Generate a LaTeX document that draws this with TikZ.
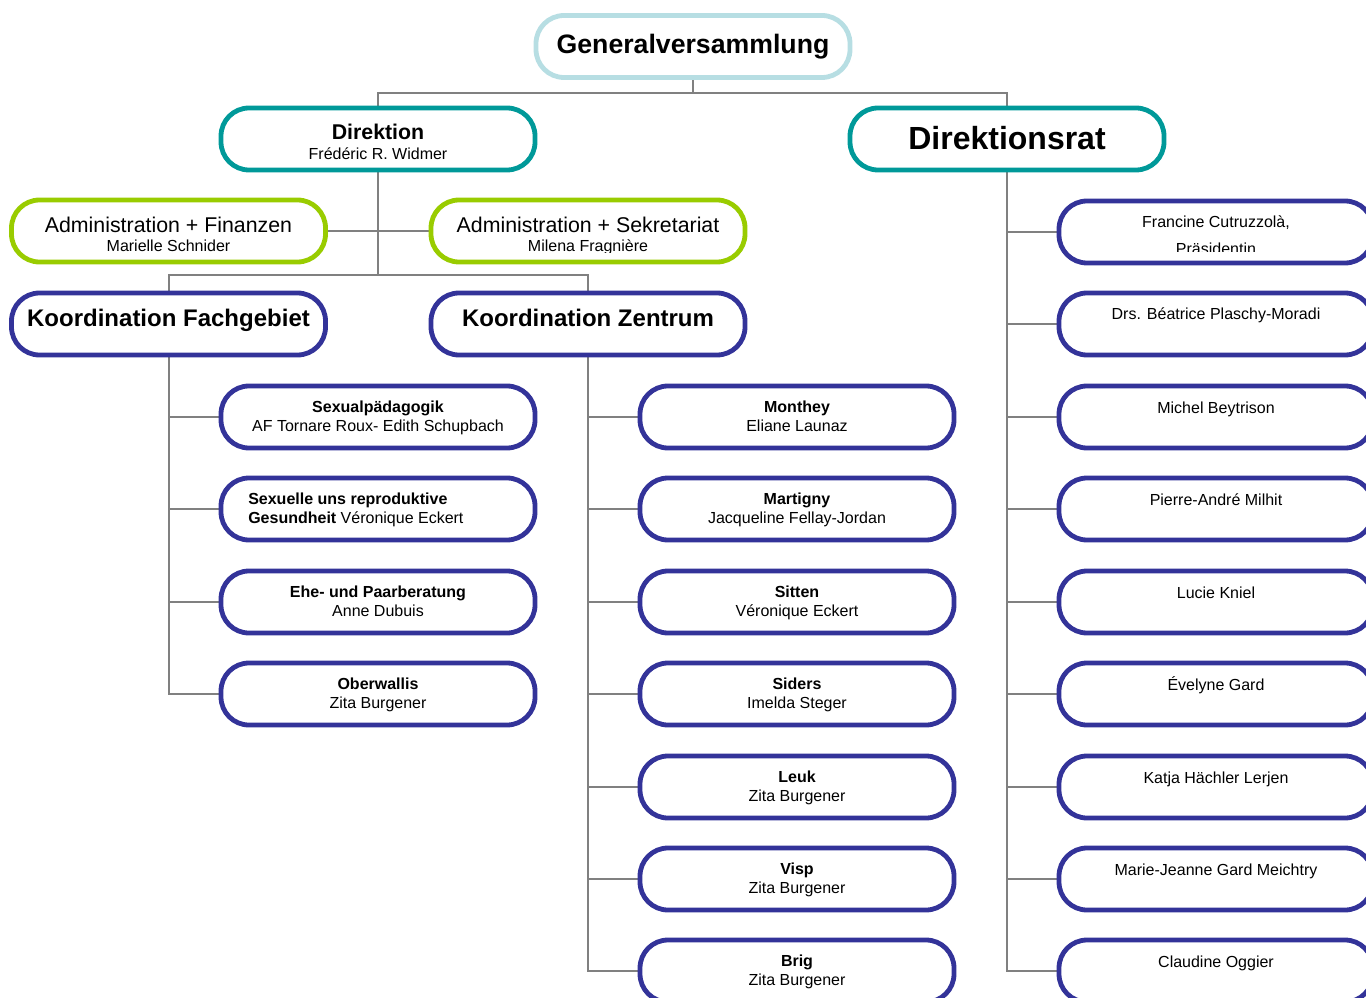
\documentclass[tikz,border=0pt]{standalone}
\usepackage{fontspec}
\setmainfont{Liberation Sans}
\usetikzlibrary{backgrounds}
\definecolor{gvblue}{RGB}{183,222,227}
\definecolor{tealc}{RGB}{0,153,153}
\definecolor{greenc}{RGB}{153,204,0}
\definecolor{navy}{RGB}{51,51,153}
\definecolor{linegray}{RGB}{128,128,128}
\tikzset{
  box/.style={draw=#1, line width=3.6pt, rounded corners=21pt, fill=white,
    minimum width=235.5pt, minimum height=46.5pt, inner sep=0pt},
  conn/.style={draw=linegray, line width=1.5pt},
  txt/.style={inner sep=0pt, anchor=base, font=\fontsize{12pt}{14pt}\selectfont},
  txtb/.style={txt, font=\bfseries\fontsize{12pt}{14pt}\selectfont},
}
\newcommand\kid[5]{%
  \node[box=navy] (#1) at (#2,#3) {};
  \node[txtb] (#1a) at (#2,#3-5) {#4};
  \node[txt] (#1b) at (#2,#3+14) {#5};}
\newcommand\ratkid[3]{%
  \node[box=navy] (#1) at (1216,#2) {};
  \node[txt] (#1a) at (1216,#2-4) {#3};}
\begin{document}
\begin{tikzpicture}[x=0.75pt,y=-0.75pt]
\useasboundingbox (0,0) rectangle (1366,998);
\clip (0,0) rectangle (1366,998);

% top level
\node[box=gvblue] (gv) at (693,46.5) {};
\node[txt, font=\bfseries\fontsize{20pt}{24pt}\selectfont] (gvt) at (693,54) {Generalversammlung};

\node[box=tealc] (dir) at (378,139) {};
\node[txt, font=\bfseries\fontsize{16pt}{19pt}\selectfont] (dirt) at (378,139.5) {Direktion};
\node[txt] (dirn) at (378,159.5) {Frédéric R. Widmer};

\node[box=tealc] (rat) at (1007,139) {};
\node[txt, font=\bfseries\fontsize{24pt}{28pt}\selectfont] (ratt) at (1007,150) {Direktionsrat};

% administration
\node[box=greenc] (af) at (168.5,231) {};
\node[txt, font=\fontsize{16pt}{19pt}\selectfont] (aft) at (168.5,233) {Administration + Finanzen};
\node[txt] (afn) at (168.5,251.5) {Marielle Schnider};

\node[box=greenc] (as) at (588,231) {};
\node[txt, font=\fontsize{16pt}{19pt}\selectfont] (ast) at (588,233) {Administration + Sekretariat};
\begin{scope}
  \clip (430,200) rectangle (746,253);
  \node[txt] (asn) at (588,251.5) {Milena Fragnière};
\end{scope}

% coordination
\node[box=navy] (kf) at (168.5,324) {};
\node[txt, font=\bfseries\fontsize{18pt}{21pt}\selectfont] (kft) at (168.5,326) {Koordination Fachgebiet};
\node[box=navy] (kz) at (588,324) {};
\node[txt, font=\bfseries\fontsize{18pt}{21pt}\selectfont] (kzt) at (588,326) {Koordination Zentrum};

% Fachgebiet children
\kid{f1}{378}{417}{Sexualpädagogik}{AF Tornare Roux- Edith Schupbach}
\node[box=navy] (f2) at (378,509) {};
\node[txtb, anchor=base west] (f2a) at (248,504) {Sexuelle uns reproduktive};
\node[txt, anchor=base west] (f2b) at (248,523.5) {\textbf{Gesundheit} Véronique Eckert};
\kid{f3}{378}{602}{Ehe- und Paarberatung}{Anne Dubuis}
\kid{f4}{378}{694}{Oberwallis}{Zita Burgener}

% Zentrum children
\kid{z1}{797}{417}{Monthey}{Eliane Launaz}
\kid{z2}{797}{509}{Martigny}{Jacqueline Fellay-Jordan}
\kid{z3}{797}{602}{Sitten}{Véronique Eckert}
\kid{z4}{797}{694}{Siders}{Imelda Steger}
\kid{z5}{797}{787}{Leuk}{Zita Burgener}
\kid{z6}{797}{879}{Visp}{Zita Burgener}
\kid{z7}{797}{971}{Brig}{Zita Burgener}

% Direktionsrat children
\ratkid{r1}{232}{Francine Cutruzzolà,}
\begin{scope}
  \clip (1060,230) rectangle (1366,252);
  \node[txt] (r1b) at (1216,254.5) {Präsidentin};
\end{scope}
\ratkid{r2}{324}{Drs. Béatrice Plaschy-Moradi}
\ratkid{r3}{417}{Michel Beytrison}
\ratkid{r4}{509}{Pierre-André Milhit}
\ratkid{r5}{602}{Lucie Kniel}
\ratkid{r6}{694}{Évelyne Gard}
\ratkid{r7}{787}{Katja Hächler Lerjen}
\ratkid{r8}{879}{Marie-Jeanne Gard Meichtry}
\ratkid{r9}{971}{Claudine Oggier}

% connectors
\begin{pgfonlayer}{background}
  \coordinate (j1) at (693,93);
  \draw[conn] (gv.south) -- (j1);
  \draw[conn] (dir.north) |- (j1) -| (rat.north);
  \coordinate (j2) at (378,275);
  \draw[conn] (dir.south) -- (j2);
  \draw[conn] (kf.north) |- (j2) -| (kz.north);
  \draw[conn] (af.east) -- (as.west);
  \foreach \n in {f1,f2,f3,f4} \draw[conn] (kf.south) |- (\n.west);
  \foreach \n in {z1,z2,z3,z4,z5,z6,z7} \draw[conn] (kz.south) |- (\n.west);
  \foreach \n in {r1,r2,r3,r4,r5,r6,r7,r8,r9} \draw[conn] (rat.south) |- (\n.west);
\end{pgfonlayer}
\end{tikzpicture}
\end{document}
